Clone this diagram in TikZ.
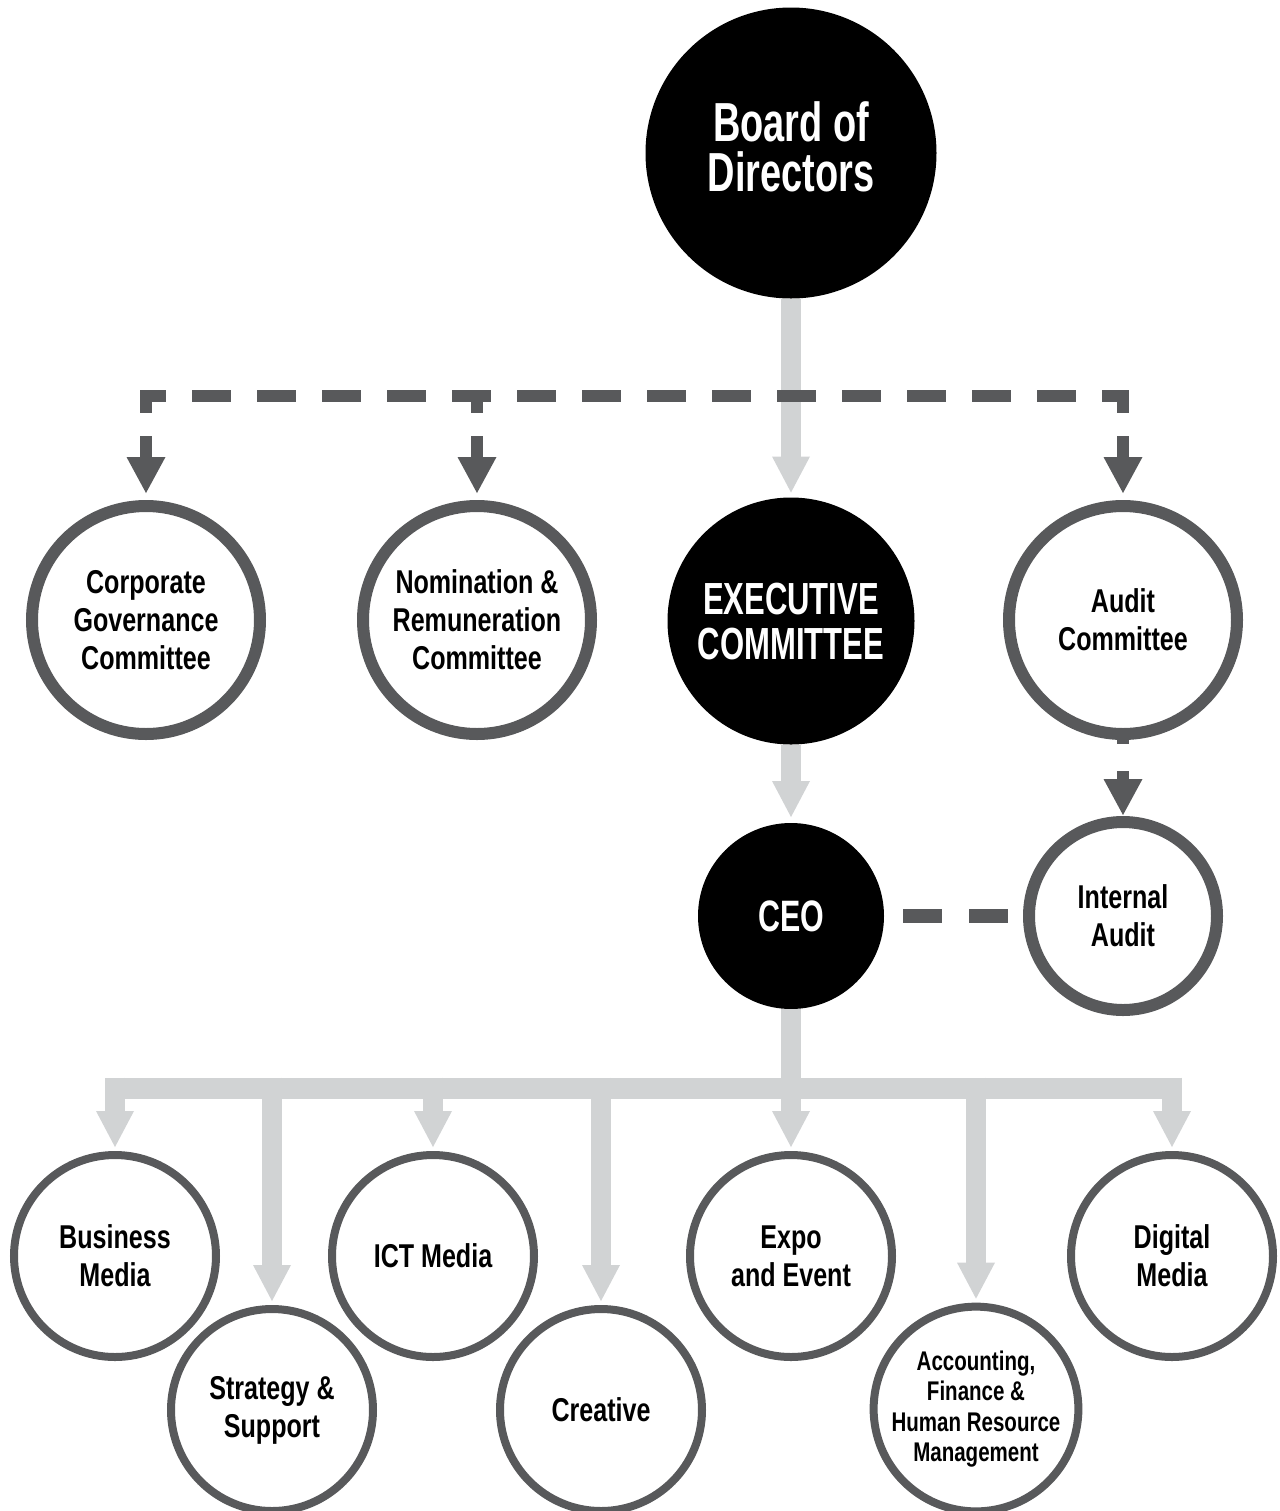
\documentclass[tikz,border=0pt]{standalone}
\usepackage{fontspec}
\usepackage{tikz}
\usetikzlibrary{arrows.meta}
\newfontfamily\dinfont{Liberation Sans}[FakeStretch=0.76]
\newfontfamily\dincaps{Liberation Sans}[FakeStretch=0.69]
\definecolor{darkgrey}{HTML}{58595B}
\definecolor{lightgrey}{HTML}{D1D3D4}
\tikzset{
  ring/.style = 	{shape=circle, draw=darkgrey, line width=6pt,
				fill=white, inner sep=0pt, align=center,
				minimum size=114pt,
				font=\dinfont\bfseries\fontsize{16.5}{19}\selectfont},
  smallring/.style = 	{ring, line width=4pt, minimum size=101pt},
  blackdisc/.style = 	{shape=circle, fill=black, text=white,
				inner sep=0pt, outer sep=0pt, align=center},
  greyline/.style = 	{draw=lightgrey, line width=10pt},
  greyarrow/.style = 	{greyline, -{Triangle[length=18pt, width=19pt, line width=0pt]}},
  darkline/.style = 	{draw=darkgrey, line width=6pt},
  darkarrow/.style = 	{darkline, dash pattern=on 11.5pt off 11.5pt,
				-{Triangle[length=18pt, width=19.5pt, line width=0pt]}},
}
\begin{document}
\begin{tikzpicture}[x=0.5pt, y=-0.5pt]
	\useasboundingbox (0,0) rectangle (1280,1511);
	% board, executive committee, ceo
	\node [blackdisc, minimum size=145.5pt, text depth=6pt,
		font=\dincaps\bfseries\fontsize{27.5}{25}\selectfont] (bod) at (791,153) {Board of\\Directors};
	\node [blackdisc, minimum size=123.5pt,
		font=\dincaps\bfseries\fontsize{22.5}{22.5}\selectfont] (exco) at (791,621) {EXECUTIVE\\COMMITTEE};
	\node [blackdisc, minimum size=93pt,
		font=\dincaps\bfseries\fontsize{22}{22}\selectfont] (ceo) at (791,916) {CEO};
	% committees
	\node [ring] (cgc) at (146,620) {Corporate\\Governance\\Committee};
	\node [ring] (nrc) at (477,620) {Nomination \&\\Remuneration\\Committee};
	\node [ring] (ac) at (1123,620) {Audit\\Committee};
	\node [ring, minimum size=94pt] (ia) at (1123,916) {Internal\\Audit};
	% divisions
	\node [smallring] (bm) at (115,1256) {Business\\Media};
	\node [smallring] (ss) at (272,1410) {Strategy \&\\Support};
	\node [smallring] (ict) at (433,1256) {ICT Media};
	\node [smallring] (cr) at (601,1410) {Creative};
	\node [smallring] (ee) at (791,1256) {Expo\\and Event};
	\node [smallring,
		font=\dinfont\bfseries\fontsize{13.5}{15.25}\selectfont] (afhr) at (976,1409) {Accounting,\\Finance \&\\Human Resource\\Management};
	\node [smallring] (dm) at (1172,1256) {Digital\\Media};
	% line of command
	\draw [greyarrow, shorten >=2.5pt] (bod) -- (exco);
	\draw [greyarrow, shorten >=3pt] (exco) -- (ceo);
	\coordinate (bar) at (0,1088);
	\draw [greyline] (ceo.south) -- (ceo.south |- bar);
	\draw [greyline, line width=10.5pt] ([xshift=-5pt]bm.north |- bar) -- ([xshift=5pt]dm.north |- bar);
	\foreach \d in {bm,ss,ict,cr,ee,afhr,dm}
		\draw [greyarrow, shorten >=2pt] ([yshift=5.25pt]\d.north |- bar) -- (\d.north);
	% oversight
	\coordinate (dashrow) at (0,396);
	\draw [darkline, dash pattern=on 19.5pt off 13pt, dash phase=6.5pt]
		([xshift=-3pt]cgc.north |- dashrow) -- ([xshift=3pt]ac.north |- dashrow);
	\foreach \c in {cgc,nrc,ac}
		\draw [darkarrow, shorten >=3.5pt] ([yshift=3pt]\c.north |- dashrow) -- (\c.north);
	\draw [darkarrow, dash pattern=on 2pt off 13.5pt on 20pt off 0pt, shorten >=0.5pt] (ac) -- (ia);
	\draw [darkline, line width=7pt, dash pattern=on 19.5pt off 13.5pt, dash phase=23.5pt] (ceo) -- (ia);
\end{tikzpicture}
\end{document}
